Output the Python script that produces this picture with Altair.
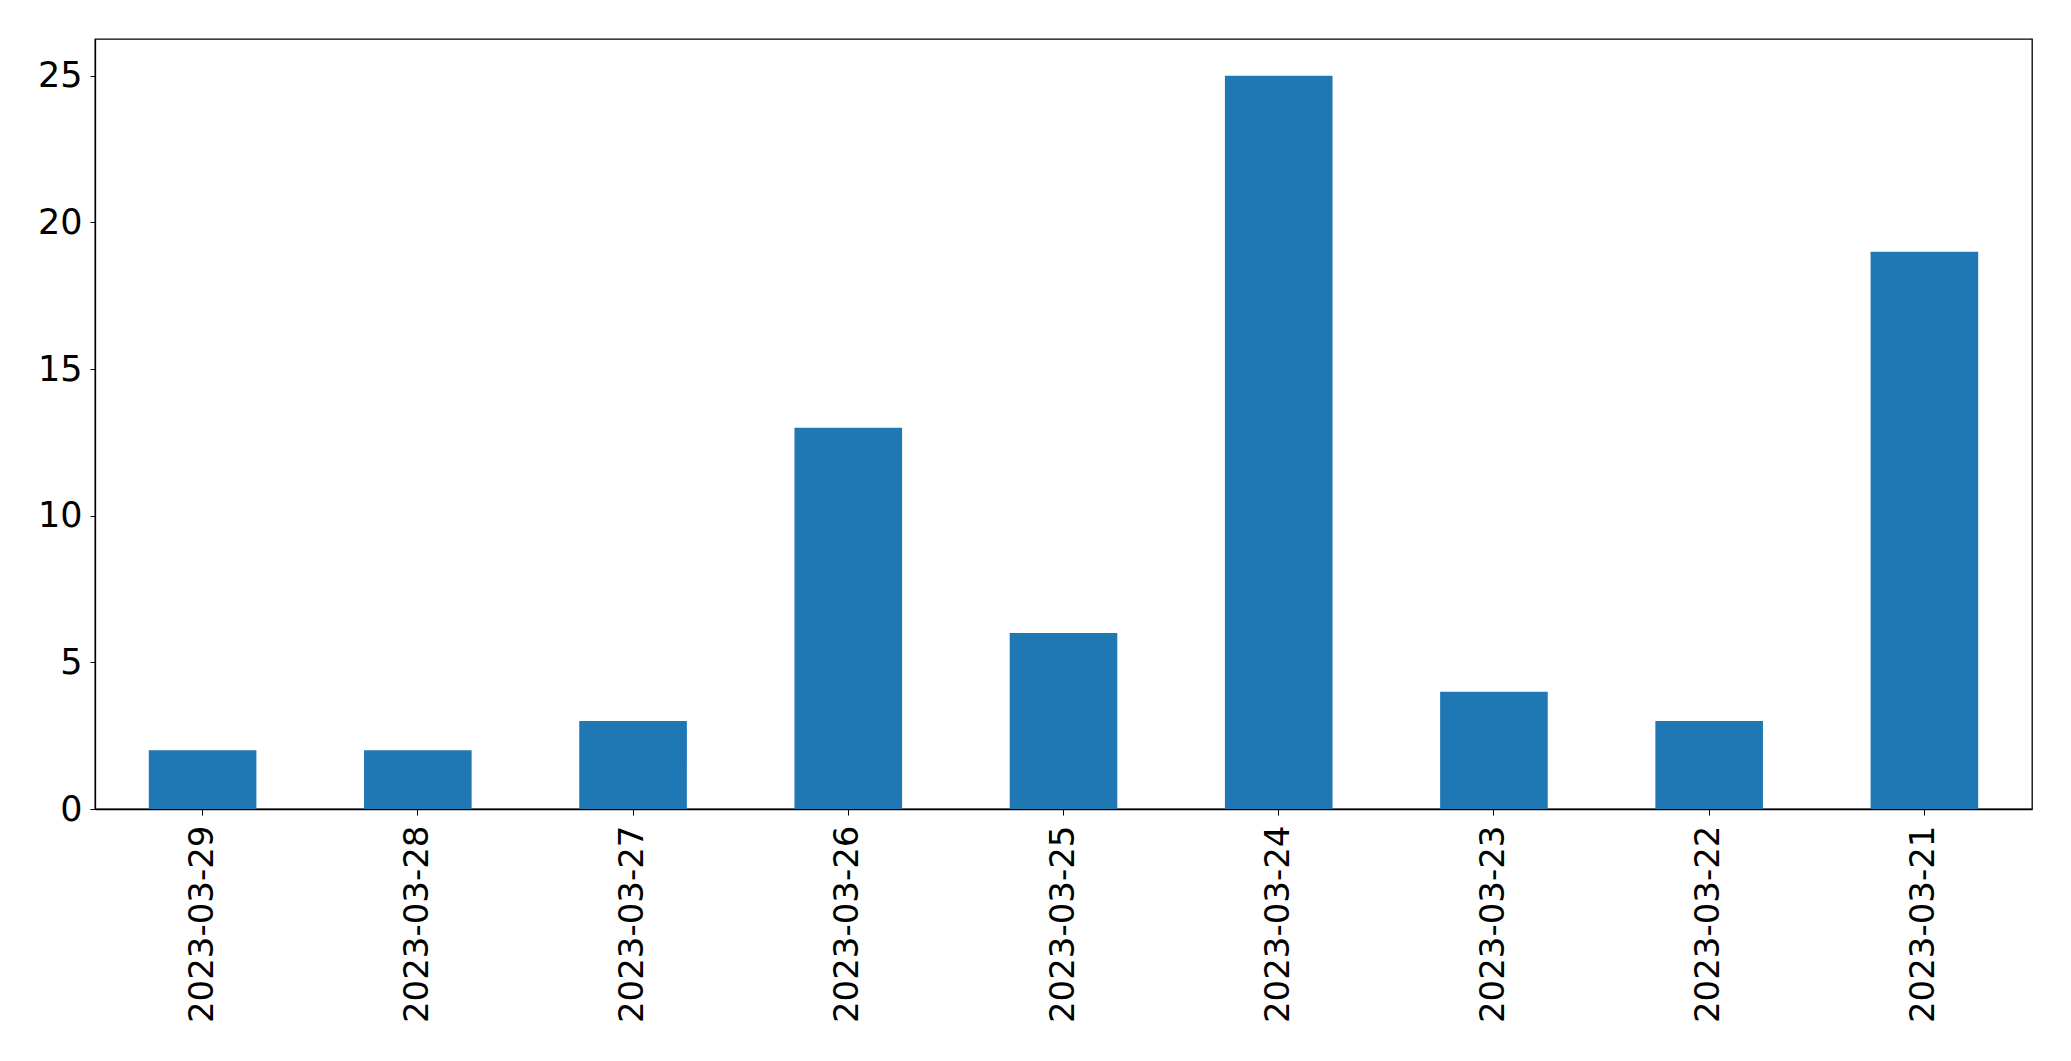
import altair as alt
import pandas as pd

dates = ["2023-03-29", "2023-03-28", "2023-03-27", "2023-03-26", "2023-03-25",
         "2023-03-24", "2023-03-23", "2023-03-22", "2023-03-21"]
counts = [2, 2, 3, 13, 6, 25, 4, 3, 19]

df = pd.DataFrame({"date": dates, "count": counts})

FONT = "DejaVu Sans"

chart = (
    alt.Chart(df)
    .mark_bar(color="#1f77b4")
    .encode(
        x=alt.X(
            "date:N",
            sort=dates,
            title=None,
            scale=alt.Scale(paddingInner=0.5, paddingOuter=0.25),
            axis=alt.Axis(
                labelAngle=-90,
                labelFontSize=34,
                labelFont=FONT,
                labelColor="black",
                labelPadding=10,
                labelLimit=500,
                tickSize=6,
                tickColor="black",
                domainColor="black",
                domainWidth=1.3,
                grid=False,
                labelAlign="right",
                labelBaseline="middle",
            ),
        ),
        y=alt.Y(
            "count:Q",
            title=None,
            scale=alt.Scale(domain=[0, 26.25], nice=False, zero=True),
            axis=alt.Axis(
                values=[0, 5, 10, 15, 20, 25],
                labelFontSize=35,
                labelFont=FONT,
                labelColor="black",
                labelPadding=8,
                tickSize=5,
                tickColor="black",
                domainColor="black",
                domainWidth=1.3,
                grid=False,
            ),
        ),
    )
    .properties(
        width=1937,
        height=770,
        autosize=alt.AutoSizeParams(type="none"),
        padding={"left": 87, "top": 31, "right": 20, "bottom": 230},
    )
    .configure(background="white")
    .configure_view(stroke="black", strokeWidth=1.3)
)

chart.save("out.html", embed_options={"renderer": "svg", "actions": False})
